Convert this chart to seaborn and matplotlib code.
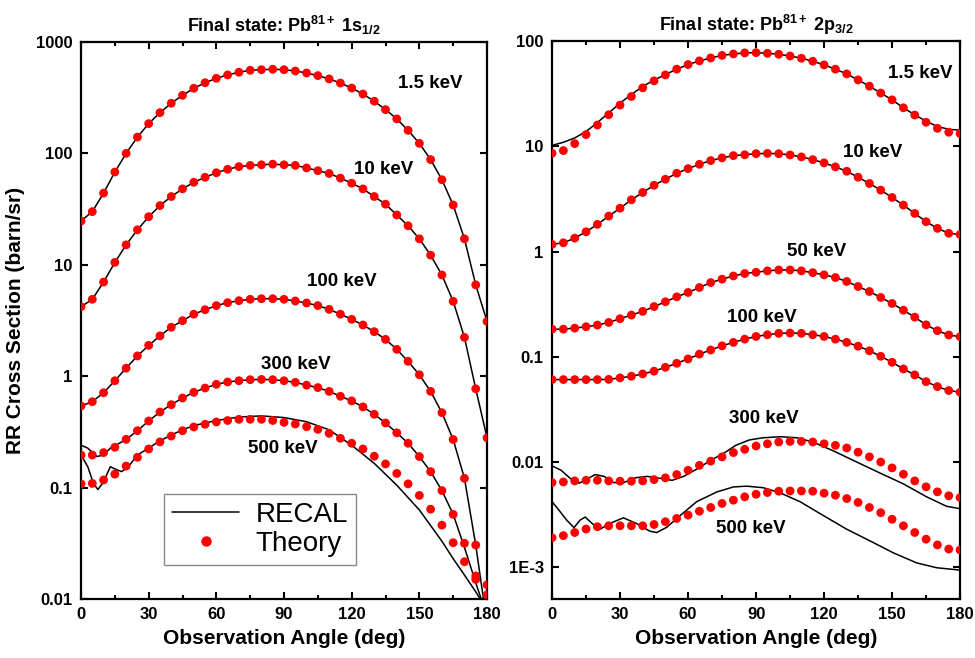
import numpy as np
import seaborn as sns
import matplotlib.pyplot as plt
from matplotlib.lines import Line2D
from matplotlib.ticker import FixedLocator, FixedFormatter, MultipleLocator, NullLocator

sns.set_style("ticks")
plt.rcParams['font.family'] = ['Liberation Sans', 'DejaVu Sans']
plt.rcParams['mathtext.fontset'] = 'custom'
plt.rcParams['mathtext.rm'] = 'Liberation Sans:bold'
plt.rcParams['mathtext.it'] = 'Liberation Sans:bold'
plt.rcParams['mathtext.bf'] = 'Liberation Sans:bold'
for key in ['text.color', 'axes.labelcolor', 'xtick.color', 'ytick.color', 'axes.edgecolor']:
    plt.rcParams[key] = 'black'

# theory points every 5 degrees
angles = np.arange(0, 181, 5)

# ---- left panel: Pb81+ 1s1/2 ----
s1_15kev = [24.7, 30, 44, 68, 100, 140, 185, 232, 282, 332, 384, 431, 472, 506, 535, 557, 564, 569, 564,
            549, 527, 499, 466, 428, 386, 341, 294, 247, 204, 161, 123, 88, 58, 34.4, 17.1, 6.6, 3.1]
s1_10kev = [4.2, 4.9, 7.0, 10.5, 15.1, 20.6, 27, 34, 41, 48, 55, 61, 67, 72, 76, 78, 79, 80, 79,
            78, 74, 70, 66, 60, 54, 48, 41, 35, 28, 22.4, 17.1, 12.2, 8.1, 4.7, 2.23, 0.77, 0.28]
s1_100kev = [0.54, 0.59, 0.71, 0.91, 1.18, 1.52, 1.89, 2.30, 2.75, 3.15, 3.6, 3.95, 4.3, 4.57, 4.76, 4.9, 4.96,
             4.96, 4.9, 4.73, 4.54, 4.3, 3.98, 3.6, 3.24, 2.88, 2.51, 2.14, 1.74, 1.36, 1.03, 0.73, 0.47,
             0.27, 0.121, 0.0305, 0.006]
s1_300kev = [0.196, 0.196, 0.206, 0.23, 0.271, 0.324, 0.396, 0.477, 0.555, 0.637, 0.716, 0.783, 0.845, 0.887,
             0.91, 0.93, 0.935, 0.93, 0.91, 0.88, 0.83, 0.79, 0.73, 0.66, 0.60, 0.53, 0.455, 0.38, 0.31,
             0.25, 0.19, 0.139, 0.094, 0.0575, 0.0316, 0.0161, 0.0109]
s1_500kev = [0.108, 0.109, 0.117, 0.132, 0.156, 0.187, 0.222, 0.257, 0.29, 0.324, 0.35, 0.37, 0.388, 0.40,
             0.41, 0.41, 0.41, 0.40, 0.385, 0.372, 0.352, 0.333, 0.307, 0.277, 0.25, 0.222, 0.191, 0.163,
             0.134, 0.108, 0.085, 0.064, 0.046, 0.032, 0.0216, 0.0150, 0.0134]

# RECAL curves that depart from the theory points
s1_300_recal_ang = [0, 3, 7, 10, 13, 17, 20, 25, 30, 35, 40, 45, 50, 55, 60, 65, 70, 75, 80, 85, 90, 95, 100,
                    105, 110, 115, 120, 125, 130, 135, 140, 145, 150, 155, 160, 165, 170, 175, 180]
s1_300_recal = [0.24, 0.226, 0.19, 0.196, 0.226, 0.25, 0.27, 0.324, 0.396, 0.477, 0.555, 0.637, 0.716, 0.783,
                0.845, 0.887, 0.91, 0.93, 0.935, 0.93, 0.91, 0.88, 0.83, 0.79, 0.73, 0.66, 0.60, 0.53, 0.455,
                0.38, 0.31, 0.25, 0.19, 0.139, 0.094, 0.0575, 0.029, 0.014, 0.007]
s1_500_recal_ang = [0, 3, 5.5, 7.5, 10, 13, 15, 18, 21, 25, 30, 35, 40, 45, 50, 60, 70, 80, 90, 100, 110, 120,
                    130, 140, 150, 160, 165, 170, 175, 180]
s1_500_recal = [0.196, 0.154, 0.109, 0.096, 0.113, 0.154, 0.147, 0.139, 0.154, 0.196, 0.226, 0.263, 0.296,
                0.33, 0.36, 0.40, 0.43, 0.44, 0.425, 0.39, 0.33, 0.24, 0.165, 0.105, 0.063, 0.033, 0.023,
                0.0164, 0.0116, 0.008]

# ---- right panel: Pb81+ 2p3/2 ----
p3_15kev = [8.6, 9.1, 10.6, 12.9, 15.9, 19.9, 24.6, 29.7, 35.9, 41.8, 47.6, 54, 59.7, 64.7, 69, 73, 75.3, 77,
            77.5, 76.4, 74.8, 72, 68.6, 64.2, 59.3, 54, 48.7, 42.7, 37.2, 32, 27.6, 23.2, 19.8, 16.9, 14.8,
            13.6, 13.2]
p3_10kev = [1.17, 1.21, 1.34, 1.54, 1.81, 2.17, 2.58, 3.1, 3.64, 4.26, 4.86, 5.54, 6.13, 6.74, 7.31, 7.75,
            8.15, 8.3, 8.5, 8.55, 8.5, 8.27, 7.92, 7.46, 6.95, 6.37, 5.79, 5.08, 4.43, 3.83, 3.26, 2.76, 2.3,
            1.92, 1.66, 1.49, 1.45]
p3_50kev = [0.183, 0.183, 0.187, 0.193, 0.20, 0.212, 0.23, 0.249, 0.27, 0.30, 0.333, 0.371, 0.408, 0.455,
            0.507, 0.546, 0.586, 0.618, 0.635, 0.655, 0.668, 0.668, 0.655, 0.63, 0.60, 0.566, 0.519, 0.465,
            0.417, 0.366, 0.321, 0.277, 0.238, 0.201, 0.177, 0.161, 0.155]
p3_100kev = [0.0607, 0.0607, 0.0607, 0.0607, 0.0607, 0.061, 0.063, 0.0653, 0.0687, 0.073, 0.0794, 0.0867,
             0.0953, 0.106, 0.116, 0.127, 0.137, 0.147, 0.156, 0.162, 0.167, 0.168, 0.167, 0.162, 0.156,
             0.147, 0.137, 0.126, 0.114, 0.101, 0.0887, 0.0766, 0.0673, 0.058, 0.0521, 0.0478, 0.0461]
p3_300kev = [0.00638, 0.00647, 0.00662, 0.00671, 0.00671, 0.00662, 0.00658, 0.00658, 0.00662, 0.00681,
             0.00707, 0.0076, 0.00835, 0.0093, 0.0102, 0.0112, 0.0123, 0.0132, 0.0142, 0.0149, 0.0155,
             0.0157, 0.0157, 0.0155, 0.0149, 0.0144, 0.0136, 0.0124, 0.0112, 0.0100, 0.0088, 0.00766,
             0.00662, 0.00581, 0.00521, 0.00478, 0.0046]
p3_500kev = [0.00191, 0.0020, 0.00214, 0.00231, 0.00243, 0.00248, 0.00248, 0.00248, 0.00248, 0.00255,
             0.00271, 0.00291, 0.00313, 0.00341, 0.0037, 0.00404, 0.00434, 0.00467, 0.00494, 0.00513,
             0.00528, 0.00531, 0.00531, 0.00528, 0.00506, 0.00484, 0.0045, 0.00413, 0.0037, 0.0033,
             0.00286, 0.00248, 0.00214, 0.00185, 0.00163, 0.00149, 0.00146]

p3_15_recal_ang = [0, 5, 10, 15, 20, 25, 30, 35, 40, 45, 50, 55, 60, 65, 70, 75, 80, 85, 90, 95, 100, 105,
                   110, 115, 120, 125, 130, 135, 140, 145, 150, 155, 160, 165, 170, 175, 180]
p3_15_recal = [10.2, 10.9, 12.0, 13.8, 16.8, 20.7, 25.7, 31, 37, 42.5, 48, 54, 59.7, 64.7, 69, 73, 75.3, 77,
               77.5, 76.4, 74.8, 72, 68.6, 64.2, 59.3, 54, 48.7, 42.7, 37.2, 32, 27.6, 23.2, 19.9, 17.3,
               15.4, 14.5, 14.2]
p3_300_recal_ang = [0, 4, 9, 12, 16, 19, 23, 27, 31, 37, 42, 46, 53, 58, 64, 70, 76, 81, 87, 93, 101, 108,
                    115, 124, 134, 145, 155, 165, 174, 180]
p3_300_recal = [0.0092, 0.00835, 0.0067, 0.0063, 0.0070, 0.0076, 0.0073, 0.0064, 0.0063, 0.0071, 0.0073,
                0.0071, 0.0067, 0.0073, 0.0086, 0.0104, 0.0122, 0.0144, 0.0162, 0.0170, 0.0174, 0.0170,
                0.0155, 0.0128, 0.0101, 0.0078, 0.0062, 0.0047, 0.0038, 0.0036]
p3_500_recal_ang = [0, 3, 6.5, 9.7, 12.3, 14.6, 18.2, 21.2, 25.6, 31.5, 37.4, 43.2, 46.2, 50.6, 56.5, 63.8,
                    72.7, 80, 85.9, 93.2, 100.6, 109.4, 119.7, 130, 140.3, 150.6, 160.9, 169.7, 180]
p3_500_recal = [0.0042, 0.0035, 0.0028, 0.00238, 0.0028, 0.0030, 0.00255, 0.0023, 0.00262, 0.00295, 0.0026,
                0.0022, 0.00214, 0.0024, 0.0031, 0.0042, 0.0052, 0.0058, 0.0059, 0.0057, 0.0051, 0.0042,
                0.0031, 0.0023, 0.00178, 0.00137, 0.0011, 0.00099, 0.00094]

left_yticks = [0.01, 0.1, 1, 10, 100, 1000]
left_ylabels = ['0.01', '0.1', '1', '10', '100', '1000']
right_yticks = [1e-3, 0.01, 0.1, 1, 10, 100]
right_ylabels = ['1E-3', '0.01', '0.1', '1', '10', '100']

fig = plt.figure(figsize=(9.75, 6.58), dpi=100)
ax1 = fig.add_axes([0.0831, 0.0897, 0.4164, 0.8465])
ax2 = fig.add_axes([0.5662, 0.0897, 0.4185, 0.848])


def draw(ax, theory, recal):
    for x, y in recal:
        sns.lineplot(x=x, y=y, ax=ax, color='black', linewidth=1.1, estimator=None, sort=False, zorder=2)
    for y in theory:
        sns.scatterplot(x=angles, y=y, ax=ax, color='red', s=40, edgecolor='none', linewidth=0, zorder=3)


draw(ax1,
     [s1_15kev, s1_10kev, s1_100kev, s1_300kev, s1_500kev],
     [(angles, s1_15kev), (angles, s1_10kev), (angles, s1_100kev),
      (s1_300_recal_ang, s1_300_recal), (s1_500_recal_ang, s1_500_recal)])
draw(ax2,
     [p3_15kev, p3_10kev, p3_50kev, p3_100kev, p3_300kev, p3_500kev],
     [(p3_15_recal_ang, p3_15_recal), (angles, p3_10kev), (angles, p3_50kev), (angles, p3_100kev),
      (p3_300_recal_ang, p3_300_recal), (p3_500_recal_ang, p3_500_recal)])

for ax, lim, ticks, labels in [(ax1, (0.01, 1000), left_yticks, left_ylabels),
                               (ax2, (5e-4, 100), right_yticks, right_ylabels)]:
    ax.set_yscale('log')
    ax.set_xlim(0, 180)
    ax.set_ylim(*lim)
    ax.xaxis.set_major_locator(FixedLocator([0, 30, 60, 90, 120, 150, 180]))
    ax.xaxis.set_minor_locator(MultipleLocator(15))
    ax.yaxis.set_major_locator(FixedLocator(ticks))
    ax.yaxis.set_major_formatter(FixedFormatter(labels))
    ax.yaxis.set_minor_locator(NullLocator())
    ax.tick_params(which='both', direction='in', top=True, right=True, width=1.5, colors='black')
    ax.tick_params(which='major', length=5, labelsize=12, pad=6)
    ax.tick_params(which='minor', length=3)
    for lab in ax.get_xticklabels() + ax.get_yticklabels():
        lab.set_fontweight('bold')
    for sp in ax.spines.values():
        sp.set_linewidth(1.6)
        sp.set_color('black')
    ax.set_xlabel('Observation Angle (deg)', fontsize=15, fontweight='bold', labelpad=5)
    ax.set_ylabel('')

ax1.set_ylabel('RR Cross Section (barn/sr)', fontsize=15, fontweight='bold', labelpad=8)
ax1.set_title(r'Final state: Pb$^{81+}$ 1s$_{1/2}$', fontsize=13, fontweight='bold', pad=7)
ax2.set_title(r'Final state: Pb$^{81+}$ 2p$_{3/2}$', fontsize=13, fontweight='bold', pad=7)

lab_kw = dict(fontsize=13.5, fontweight='bold', ha='center', va='center')
ax1.text(154.7, 420, '1.5 keV', **lab_kw)
ax1.text(134, 71, '10 keV', **lab_kw)
ax1.text(115.5, 7.1, '100 keV', **lab_kw)
ax1.text(95.4, 1.26, '300 keV', **lab_kw)
ax1.text(89.5, 0.222, '500 keV', **lab_kw)
ax2.text(162.3, 48.7, '1.5 keV', **lab_kw)
ax2.text(141.5, 8.64, '10 keV', **lab_kw)
ax2.text(116.5, 1.01, '50 keV', **lab_kw)
ax2.text(92.4, 0.237, '100 keV', **lab_kw)
ax2.text(93.5, 0.0261, '300 keV', **lab_kw)
ax2.text(87.8, 0.00234, '500 keV', **lab_kw)

handles = [Line2D([], [], color='black', linewidth=1.1, label='RECAL'),
           Line2D([], [], color='red', marker='o', linestyle='none', markersize=6.5, label='Theory')]
leg = ax1.legend(handles=handles, loc='lower left', bbox_to_anchor=(0.204, 0.061), fontsize=20,
                 fancybox=False, edgecolor='#888888', framealpha=1, handlelength=2.4, handletextpad=0.6,
                 borderpad=0.3, labelspacing=0.1, borderaxespad=0)
leg.get_frame().set_linewidth(1.0)
for t in leg.get_texts():
    t.set_color('black')

fig.savefig('out.png', dpi=100)
